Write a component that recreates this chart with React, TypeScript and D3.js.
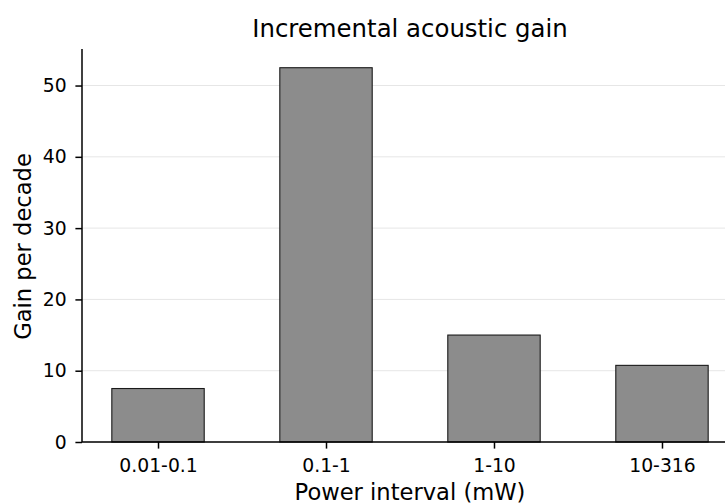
import React, { useEffect, useRef } from 'react';
import * as d3 from 'd3';

const intervals = ['0.01-0.1', '0.1-1', '1-10', '10-316'];
const gainPerDecade = [7.5, 52.5, 15.0, 10.75];
const yTicks = [0, 10, 20, 30, 40, 50];

export default function App() {
  const svgRef = useRef<SVGSVGElement>(null);

  useEffect(() => {
    const svg = d3.select(svgRef.current);
    svg.selectAll('*').remove();

    const width = 725;
    const left = 82;
    const right = 738;
    const top = 49;
    const bottom = 442;
    const font = 'DejaVu Sans, sans-serif';

    const x = d3.scaleLinear().domain([-0.4525, 3.4525]).range([left, right]);
    const y = d3.scaleLinear().domain([0, 55.125]).range([bottom, top]);
    const barW = 0.55;

    // grid
    svg
      .append('g')
      .selectAll('line')
      .data(yTicks)
      .join('line')
      .attr('x1', left)
      .attr('x2', width)
      .attr('y1', (d) => y(d))
      .attr('y2', (d) => y(d))
      .attr('stroke', '#e6e6e6')
      .attr('stroke-width', 1);

    // bars
    svg
      .append('g')
      .selectAll('rect')
      .data(gainPerDecade)
      .join('rect')
      .attr('x', (d, i) => x(i - barW / 2))
      .attr('width', x(barW) - x(0))
      .attr('y', (d) => y(d))
      .attr('height', (d) => y(0) - y(d))
      .attr('fill', '#8c8c8c')
      .attr('stroke', '#1a1a1a')
      .attr('stroke-width', 1.1);

    // y axis
    const yAxis = d3
      .axisLeft(y)
      .tickValues(yTicks)
      .tickSize(6.6)
      .tickPadding(8.8)
      .tickFormat(d3.format('d'));
    const gy = svg.append('g').attr('transform', `translate(${left},0)`).call(yAxis);
    gy.select('.domain').remove();
    gy.selectAll('line').attr('stroke', '#000').attr('stroke-width', 1.5);
    gy.selectAll('text').attr('font-family', font).attr('font-size', 18.8).attr('fill', '#000');

    // x axis
    const xAxis = d3
      .axisBottom(x)
      .tickValues(d3.range(intervals.length))
      .tickSize(6.6)
      .tickPadding(10)
      .tickFormat((d) => intervals[d as number]);
    const gx = svg.append('g').attr('transform', `translate(0,${bottom})`).call(xAxis);
    gx.select('.domain').remove();
    gx.selectAll('line').attr('stroke', '#000').attr('stroke-width', 1.5);
    gx.selectAll('text').attr('font-family', font).attr('font-size', 18.8).attr('fill', '#000');

    // spines
    svg
      .append('line')
      .attr('x1', left)
      .attr('x2', left)
      .attr('y1', top)
      .attr('y2', bottom)
      .attr('stroke', '#000')
      .attr('stroke-width', 1.5);
    svg
      .append('line')
      .attr('x1', left)
      .attr('x2', right)
      .attr('y1', bottom)
      .attr('y2', bottom)
      .attr('stroke', '#000')
      .attr('stroke-width', 1.5);

    // title and labels
    svg
      .append('text')
      .attr('x', (left + right) / 2)
      .attr('y', 37)
      .attr('text-anchor', 'middle')
      .attr('font-family', font)
      .attr('font-size', 24.4)
      .text('Incremental acoustic gain');

    svg
      .append('text')
      .attr('x', (left + right) / 2)
      .attr('y', 499.5)
      .attr('text-anchor', 'middle')
      .attr('font-family', font)
      .attr('font-size', 22.6)
      .text('Power interval (mW)');

    svg
      .append('text')
      .attr('transform', `translate(30.5,${(top + bottom) / 2 + 1}) rotate(-90)`)
      .attr('text-anchor', 'middle')
      .attr('font-family', font)
      .attr('font-size', 22.6)
      .text('Gain per decade');
  }, []);

  return (
    <svg
      ref={svgRef}
      width={725}
      height={504}
      style={{ position: 'absolute', left: 0, top: 0, background: '#fff' }}
    />
  );
}
